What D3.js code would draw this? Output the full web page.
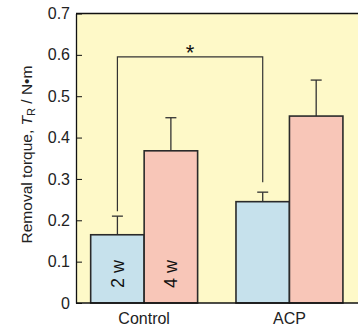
<!DOCTYPE html>
<html><head><meta charset="utf-8">
<script src="https://cdn.jsdelivr.net/npm/d3@7"></script>
<style>body{margin:0;background:#fff}svg{display:block}</style>
</head><body>
<script>
const categories = ["Control", "ACP"];
const series = ["2 w", "4 w"];
const means = [[0.165, 0.368], [0.245, 0.452]];
const errors = [[0.045, 0.080], [0.023, 0.087]];
const yTicks = [0, 0.1, 0.2, 0.3, 0.4, 0.5, 0.6, 0.7];
const colors = ["#c6e1ec", "#f8c6b8"];

const W = 358, H = 329;
const m = {left: 76, top: 13.5, bottom: 26};
const pw = 281.6, ph = H - m.top - m.bottom;
const svg = d3.select("body").append("svg").attr("width", W).attr("height", H);
const g = svg.append("g").attr("transform", `translate(${m.left},${m.top})`);
const fullW = W - m.left + 2;

const y = d3.scaleLinear().domain([0, 0.7]).range([ph, 0]);
const x0 = d3.scaleBand().domain(categories).range([0, pw]).paddingInner(0.264).paddingOuter(0.101);
const x1 = d3.scaleBand().domain(series).range([0, x0.bandwidth()]);

g.append("rect").attr("width", fullW).attr("height", ph).attr("fill", "#fef9c8");

const font = "Arial, 'Liberation Sans', sans-serif";

// bars
categories.forEach((c, ci) => {
  series.forEach((s, si) => {
    const bx = x0(c) + x1(s), bw = x1.bandwidth();
    const v = means[ci][si], e = errors[ci][si];
    const cx = bx + bw / 2;
    g.append("line").attr("x1", cx).attr("x2", cx).attr("y1", y(v)).attr("y2", y(v + e))
      .attr("stroke", "#333").attr("stroke-width", 1.3);
    g.append("line").attr("x1", cx - 5.5).attr("x2", cx + 5.5).attr("y1", y(v + e)).attr("y2", y(v + e))
      .attr("stroke", "#333").attr("stroke-width", 1.3);
    g.append("rect").attr("x", bx).attr("y", y(v)).attr("width", bw).attr("height", y(0) - y(v))
      .attr("fill", colors[si]).attr("stroke", "#2a2a2a").attr("stroke-width", 1.6);
    if (ci === 0) {
      g.append("text").attr("transform", `translate(${cx + 6.5},${y(0.070)}) rotate(-90)`)
        .attr("text-anchor", "middle").attr("font-family", font).attr("font-size", 18)
        .attr("fill", "#111").text(s);
    }
  });
});

// significance bracket
const xa = x0("Control") + x1("2 w") + x1.bandwidth() / 2;
const xb = x0("ACP") + x1("2 w") + x1.bandwidth() / 2;
const yb = y(0.595);
g.append("path").attr("d", `M${xa},${y(0.222)}V${yb}H${xb}V${y(0.292)}`)
  .attr("fill", "none").attr("stroke", "#333").attr("stroke-width", 1.2);
g.append("text").attr("x", (xa + xb) / 2).attr("y", yb + 3).attr("text-anchor", "middle")
  .attr("font-family", font).attr("font-size", 22).attr("fill", "#111").text("*");

// frame lines
g.append("line").attr("x1", 0).attr("x2", fullW).attr("y1", 0).attr("y2", 0).attr("stroke", "#111").attr("stroke-width", 1.3);
g.append("line").attr("x1", 0).attr("x2", fullW).attr("y1", ph).attr("y2", ph).attr("stroke", "#111").attr("stroke-width", 1.3);

// y axis
const ya = g.append("g").call(d3.axisLeft(y).tickValues(yTicks).tickSizeInner(-6).tickSizeOuter(0)
  .tickPadding(6).tickFormat(d => d === 0 ? "0" : d3.format(".1f")(d)));
ya.select(".domain").attr("stroke", "#111").attr("stroke-width", 1.3);
ya.selectAll(".tick line").attr("stroke", "#111");
ya.selectAll("text").attr("font-family", font).attr("font-size", 16).attr("fill", "#222");

// x labels
categories.forEach(c => {
  g.append("text").attr("x", x0(c) + x0.bandwidth() / 2).attr("y", ph + 21).attr("text-anchor", "middle")
    .attr("font-family", font).attr("font-size", 16).attr("fill", "#222").text(c);
});

// y title
const t = svg.append("text").attr("transform", `translate(32,154.5) rotate(-90)`)
  .attr("text-anchor", "middle").attr("font-family", font).attr("font-size", 15.5).attr("fill", "#222");
t.append("tspan").text("Removal torque,  ");
t.append("tspan").attr("font-style", "italic").text("T");
t.append("tspan").attr("font-size", 11).attr("dy", 3).text("R");
t.append("tspan").attr("dy", -3).text(" / N•m");
</script>
</body></html>
